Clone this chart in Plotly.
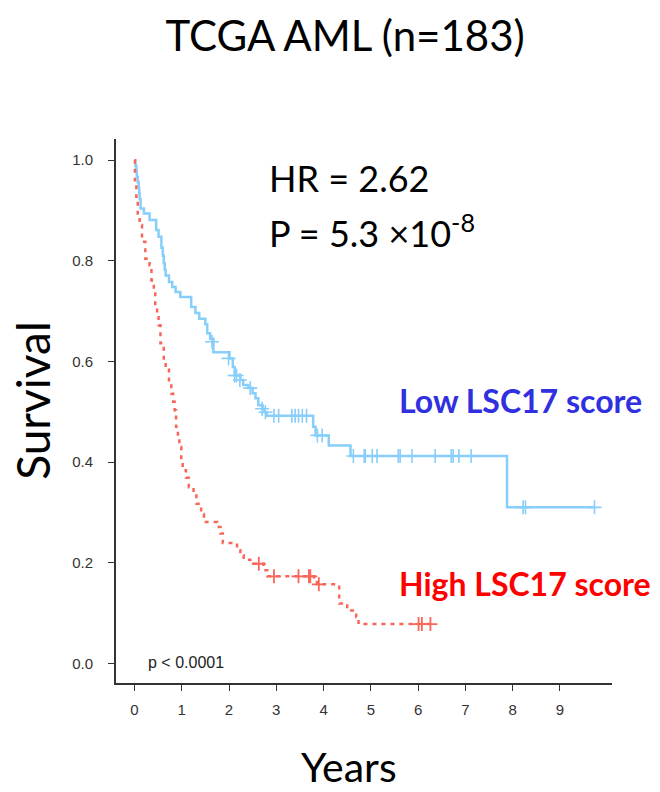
import plotly.graph_objects as go

# ---- data ----
low_t = [0, 0.02, 0.04, 0.05, 0.07, 0.09, 0.10, 0.11, 0.13, 0.20, 0.32, 0.46, 0.51,
         0.57, 0.60, 0.62, 0.64, 0.66, 0.73, 0.80, 0.87, 0.97, 1.20, 1.29, 1.37,
         1.50, 1.54, 1.60, 1.67, 2.01, 2.08, 2.12, 2.24, 2.30, 2.41, 2.50, 2.56,
         2.62, 2.71, 2.75, 2.80, 3.78, 3.83, 4.11, 4.57, 7.88]
low_s = [1.0, 0.989, 0.978, 0.967, 0.956, 0.945, 0.934, 0.923, 0.904, 0.894, 0.881, 0.861, 0.848,
         0.826, 0.810, 0.795, 0.782, 0.771, 0.758, 0.748, 0.738, 0.728, 0.708, 0.696, 0.685,
         0.674, 0.656, 0.645, 0.618, 0.606, 0.589, 0.572, 0.563, 0.553, 0.547, 0.537, 0.527,
         0.513, 0.506, 0.499, 0.492, 0.470, 0.453, 0.433, 0.412, 0.310]
low_end = 9.73
low_cens_t = [1.64, 1.99, 2.12, 2.16, 2.23, 2.45, 2.70, 2.77, 2.95, 3.05, 3.33, 3.40, 3.47,
              3.55, 3.64, 3.87, 3.97, 4.63, 4.86, 4.88, 5.03, 5.13, 5.58, 5.62, 5.87,
              6.36, 6.70, 6.74, 6.86, 7.12, 8.22, 8.27, 9.73]
low_cens_s = [0.639, 0.606, 0.572, 0.572, 0.563, 0.547, 0.506, 0.499, 0.492, 0.492, 0.492, 0.492, 0.492,
              0.492, 0.492, 0.453, 0.453, 0.412, 0.412, 0.412, 0.412, 0.412, 0.412, 0.412, 0.412,
              0.412, 0.412, 0.412, 0.412, 0.412, 0.310, 0.310, 0.310]

high_t = [0, 0.01, 0.04, 0.07, 0.11, 0.16, 0.23, 0.32, 0.36, 0.41, 0.44, 0.48, 0.51,
          0.55, 0.62, 0.66, 0.73, 0.78, 0.82, 0.85, 0.88, 0.92, 0.95, 0.99, 1.02,
          1.09, 1.15, 1.25, 1.31, 1.41, 1.47, 1.75, 1.82, 1.87, 2.17, 2.24, 2.31,
          2.45, 2.73, 2.81, 3.80, 3.86, 4.33, 4.50, 4.69, 4.74]
high_s = [1.0, 0.960, 0.927, 0.887, 0.871, 0.838, 0.804, 0.791, 0.761, 0.735, 0.708, 0.688, 0.672,
          0.636, 0.602, 0.586, 0.556, 0.536, 0.520, 0.503, 0.470, 0.450, 0.430, 0.404, 0.384,
          0.369, 0.350, 0.337, 0.317, 0.297, 0.281, 0.271, 0.258, 0.239, 0.225, 0.215, 0.206,
          0.198, 0.185, 0.173, 0.165, 0.157, 0.119, 0.105, 0.092, 0.078]
high_end = 6.33
high_cens_t = [2.63, 2.95, 3.47, 3.69, 3.72, 3.90, 6.01, 6.08, 6.26]
high_cens_s = [0.198, 0.173, 0.173, 0.173, 0.173, 0.157, 0.078, 0.078, 0.078]

x_ticks = [0, 1, 2, 3, 4, 5, 6, 7, 8, 9]
y_ticks = [0.0, 0.2, 0.4, 0.6, 0.8, 1.0]
y_tick_labels = ["0.0", "0.2", "0.4", "0.6", "0.8", "1.0"]

BLUE = "#87CEFA"
RED = "#F8665A"

fig = go.Figure()
fig.add_trace(go.Scatter(x=low_t + [low_end], y=low_s + [low_s[-1]], mode="lines",
                         line=dict(color=BLUE, width=2.5, shape="hv"), hoverinfo="skip"))
fig.add_trace(go.Scatter(x=high_t + [high_end], y=high_s + [high_s[-1]], mode="lines",
                         line=dict(color=RED, width=2.5, shape="hv", dash="4px,5px"), hoverinfo="skip"))
fig.add_trace(go.Scatter(x=low_cens_t, y=low_cens_s, mode="markers",
                         marker=dict(symbol="cross-thin", size=10, line=dict(color=BLUE, width=1.6)),
                         hoverinfo="skip"))
fig.add_trace(go.Scatter(x=high_cens_t, y=high_cens_s, mode="markers",
                         marker=dict(symbol="cross-thin", size=10, line=dict(color=RED, width=1.8)),
                         hoverinfo="skip"))

tickfont = dict(family="Liberation Sans, Arial", size=15, color="#333333")
fig.update_layout(
    width=660, height=792, showlegend=False,
    paper_bgcolor="white", plot_bgcolor="white",
    margin=dict(l=116, r=48, t=139, b=109),
    title=dict(text="TCGA AML (n=183)", x=0.523, xanchor="center", y=1 - 36 / 792, yanchor="middle",
               font=dict(family="Lato", size=42, color="black")),
    xaxis=dict(range=[-0.39, 10.1], tickvals=x_ticks, ticks="outside", ticklen=6, tickwidth=1.2,
               tickcolor="#333333", showline=True, linecolor="#333333", linewidth=1.8,
               showgrid=False, zeroline=False, tickfont=tickfont, ticklabelstandoff=6),
    yaxis=dict(range=[-0.039, 1.042], tickvals=y_ticks, ticktext=y_tick_labels, ticks="outside",
               ticklen=6, tickwidth=1.2, tickcolor="#333333", showline=True, linecolor="#333333",
               linewidth=1.8, showgrid=False, zeroline=False, tickfont=tickfont, ticklabelstandoff=12),
)

ann = [
    dict(text="HR = 2.62", x=2.8, y=0.965, xref="x", yref="y", xanchor="left", yanchor="middle",
         showarrow=False, font=dict(family="Lato", size=36, color="black")),
    dict(text="P = 5.3 \u00d710<sup>-8</sup>", x=2.8, y=0.86, xref="x", yref="y", xanchor="left",
         yanchor="middle", showarrow=False, font=dict(family="Lato", size=36, color="black")),
    dict(text="<b>Low LSC17 score</b>", x=5.55, y=0.523, xref="x", yref="y", xanchor="left",
         yanchor="middle", showarrow=False, font=dict(family="Lato", size=32, color="#3030E0")),
    dict(text="<b>High LSC17 score</b>", x=5.55, y=0.159, xref="x", yref="y", xanchor="left",
         yanchor="middle", showarrow=False, font=dict(family="Lato", size=32, color="#FF0000")),
    dict(text="p < 0.0001", x=0.24, y=0.002, xref="x", yref="y", xanchor="left", yanchor="middle",
         showarrow=False, font=dict(family="Liberation Sans, Arial", size=16, color="#222222")),
    dict(text="Survival", x=-0.17, y=0.52, xref="paper", yref="paper", xanchor="center",
         yanchor="middle", textangle=-90, showarrow=False,
         font=dict(family="Lato", size=46, color="black")),
    dict(text="Years", x=0.47, y=-0.153, xref="paper", yref="paper", xanchor="center",
         yanchor="middle", showarrow=False, font=dict(family="Lato", size=41, color="black")),
]
fig.update_layout(annotations=ann)

fig.write_html("out.html", config={"displayModeBar": False})
